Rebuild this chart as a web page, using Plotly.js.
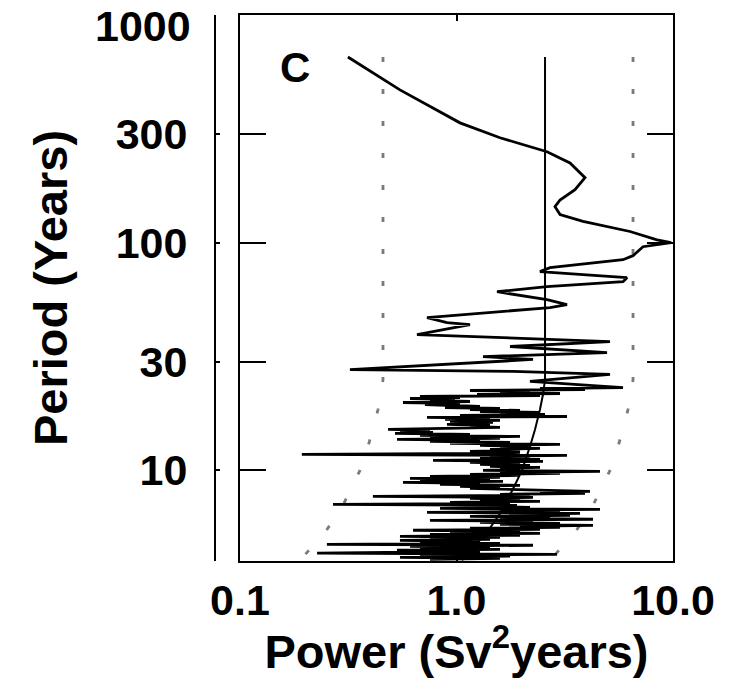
<!DOCTYPE html>
<html>
<head>
<meta charset="utf-8">
<script src="https://cdn.plot.ly/plotly-3.0.1.min.js"></script>
<style>html,body{margin:0;padding:0;background:#fff;}#chart{width:746px;height:678px;}</style>
</head>
<body>
<div id="chart"></div>
<script>
// Main power spectrum: long periods (smooth upper part)
const upperPeriod = [
  654, 469, 336, 289, 251, 224, 193, 171, 154, 144, 133, 124, 112, 103, 100, 96.0, 87.7, 84.2, 77.7, 74.6,
  72.4, 70.2, 67.4, 64.1, 60.9, 59.1, 56.2, 53.5, 51.9, 46.9, 44.6, 43.7, 39.5, 36.8, 35.0, 32.9, 31.6, 30.7,
  27.7, 27.2, 26.4, 24.6, 23.1
];
const upperPower = [
  0.315, 0.548, 1.038, 1.588, 2.618, 3.344, 3.922, 3.527, 3.007, 2.851, 3.007, 3.840, 6.331, 8.436, 9.8, 7.267, 6.536, 5.875, 2.703, 2.430,
  3.840, 6.132, 5.875, 2.618, 1.539, 1.903, 2.618, 3.239, 2.703, 0.731, 0.904, 1.154, 0.657, 5.117, 1.767, 4.957, 1.326, 2.256,
  0.322, 1.824, 5.117, 2.185, 5.875
];
// Main power spectrum: short periods (dense lower part)
const lowerPeriod = [
  22.89, 22.66, 22.43, 22.20, 21.98, 21.76, 21.54, 21.32, 21.11, 20.90, 20.69, 20.48, 20.28, 20.07, 19.87, 19.67, 19.47, 19.28, 19.08, 18.89,
  18.70, 18.51, 18.33, 18.14, 17.96, 17.78, 17.60, 17.43, 17.25, 17.08, 16.91, 16.74, 16.57, 16.40, 16.24, 16.07, 15.91, 15.75, 15.60, 15.44,
  15.28, 15.13, 14.98, 14.83, 14.68, 14.53, 14.38, 14.24, 14.10, 13.96, 13.82, 13.68, 13.54, 13.41, 13.27, 13.14, 13.00, 12.87, 12.74, 12.62,
  12.49, 12.36, 12.24, 12.12, 11.99, 11.87, 11.75, 11.63, 11.52, 11.40, 11.29, 11.17, 11.06, 10.95, 10.84, 10.73, 10.62, 10.52, 10.41, 10.31,
  10.20, 10.10, 10.00, 9.90, 9.80, 9.70, 9.60, 9.51, 9.41, 9.32, 9.23, 9.13, 9.04, 8.95, 8.86, 8.77, 8.68, 8.60, 8.51, 8.42,
  8.34, 8.25, 8.17, 8.09, 8.01, 7.93, 7.85, 7.77, 7.69, 7.61, 7.54, 7.46, 7.39, 7.31, 7.24, 7.17, 7.09, 7.02, 6.95, 6.88,
  6.81, 6.74, 6.68, 6.61, 6.54, 6.48, 6.41, 6.35, 6.28, 6.22, 6.16, 6.10, 6.03, 5.97, 5.91, 5.85, 5.80, 5.74, 5.68, 5.62,
  5.57, 5.51, 5.46, 5.40, 5.35, 5.29, 5.24, 5.19, 5.13, 5.08, 5.03, 4.98, 4.93, 4.88, 4.83, 4.78, 4.73, 4.69, 4.64, 4.59,
  4.55, 4.50, 4.46, 4.41, 4.37, 4.33, 4.28, 4.24, 4.20, 4.15, 4.11, 4.07
];
const lowerPower = [
  2.430, 3.922, 1.154, 2.185, 1.588, 3.007, 1.244, 2.430, 0.678, 1.038, 0.610, 0.984, 0.754, 1.154, 0.566, 1.038, 0.715, 0.933, 1.284, 0.885,
  1.588, 1.154, 1.965, 1.284, 2.430, 1.588, 2.564, 1.038, 3.239, 0.731, 1.428, 0.885, 1.588, 0.933, 1.474, 1.038, 0.904, 1.428, 1.154, 1.588,
  0.839, 0.483, 0.754, 0.548, 0.779, 0.520, 1.154, 0.678, 1.965, 0.754, 1.588, 0.531, 1.284, 0.754, 1.767, 0.933, 3.007, 1.284, 2.185, 1.588,
  2.430, 1.428, 1.965, 1.154, 1.965, 1.284, 0.193, 3.239, 1.428, 2.185, 1.284, 2.430, 0.779, 2.509, 1.154, 1.965, 1.284, 2.185, 1.428, 2.430,
  1.588, 1.965, 1.326, 4.600, 1.588, 3.007, 1.154, 1.965, 0.754, 1.588, 0.610, 1.428, 0.678, 1.640, 0.566, 1.284, 0.839, 1.965, 1.038, 1.588,
  1.154, 1.824, 3.007, 4.137, 2.430, 3.922, 1.588, 2.185, 0.411, 2.256, 1.154, 1.965, 1.284, 2.430, 0.933, 1.767, 0.269, 1.903, 1.154, 2.185,
  0.839, 4.600, 1.588, 3.007, 0.731, 3.719, 1.965, 3.344, 1.154, 2.703, 1.588, 4.271, 0.754, 2.256, 1.284, 3.007, 1.588, 4.271, 1.965, 3.007,
  1.154, 2.430, 0.630, 1.965, 0.933, 2.430, 0.754, 1.965, 0.548, 1.588, 0.754, 1.428, 0.548, 1.284, 0.678, 1.588, 0.252, 2.256, 0.610, 1.428,
  0.678, 1.588, 0.531, 1.284, 0.610, 0.227, 2.912, 0.678, 1.767, 0.548, 1.588, 0.754
];
const spectrumPeriod = upperPeriod.concat(lowerPeriod);
const spectrumPower = upperPower.concat(lowerPower);

// Background (red-noise) spectrum and its confidence limits
const backgroundPeriod = [654, 25.06, 21.54, 18.51, 15.13, 12.74, 10.0, 8.25, 6.74, 5.35, 4.28, 4.03];
const backgroundPower  = [2.564, 2.564, 2.509, 2.430, 2.305, 2.185, 2.007, 1.824, 1.640, 1.383, 1.130, 1.060];
const lowerLimitPower  = [0.4576, 0.4576, 0.448, 0.434, 0.411, 0.390, 0.3583, 0.3256, 0.2927, 0.2470, 0.2017, 0.1893];
const upperLimitPower  = [6.536, 6.536, 6.397, 6.196, 5.875, 5.572, 5.117, 4.649, 4.181, 3.527, 2.881, 2.703];

// Axis ticks
const xTickVals = [0.1, 1, 10];
const xTickText = ['0.1', '1.0', '10.0'];
const yTickVals = [10, 30, 100, 300];
const yTickText = ['10', '30', '100', '300'];
const yTopLabel = '1000';
const frameTickVals = [10, 30, 100, 300];

const FONT = 'Liberation Sans, Arial, Helvetica, sans-serif';

const traces = [
  {x: lowerLimitPower, y: backgroundPeriod, type: 'scatter', mode: 'lines', xaxis: 'x', yaxis: 'y',
   line: {color: '#7a7a7a', width: 2.8, dash: '5px,27px'}, hoverinfo: 'skip', showlegend: false},
  {x: upperLimitPower, y: backgroundPeriod, type: 'scatter', mode: 'lines', xaxis: 'x', yaxis: 'y',
   line: {color: '#7a7a7a', width: 2.8, dash: '5px,27px'}, hoverinfo: 'skip', showlegend: false},
  {x: spectrumPower, y: spectrumPeriod, type: 'scatter', mode: 'lines', xaxis: 'x', yaxis: 'y',
   line: {color: '#000', width: 2.8}, showlegend: false},
  {x: backgroundPower, y: backgroundPeriod, type: 'scatter', mode: 'lines', xaxis: 'x', yaxis: 'y2',
   line: {color: '#000', width: 2}, showlegend: false}
];

const yRange = [Math.log10(4.0), 3];
const layout = {
  width: 746, height: 678,
  margin: {l: 215, r: 73, t: 15, b: 117, pad: 0},
  paper_bgcolor: '#fff', plot_bgcolor: '#fff',
  showlegend: false,
  font: {family: FONT, color: '#000'},
  xaxis: {
    type: 'log', range: [-1, 1], domain: [25 / 458, 1], anchor: 'y',
    showline: true, linecolor: '#000', linewidth: 2, mirror: 'ticks',
    ticks: 'inside', ticklen: 6, tickwidth: 2, tickcolor: '#000',
    tickvals: xTickVals, ticktext: xTickText,
    tickfont: {family: FONT, size: 43, weight: 'bold', color: '#000'},
    ticklabelstandoff: 0,
    showgrid: false, zeroline: false,
    title: {text: 'Power (Sv<sup>2</sup>years)', font: {family: FONT, size: 47, weight: 'bold', color: '#000'}, standoff: 5}
  },
  yaxis: {
    type: 'log', range: yRange, anchor: 'free', position: 0, side: 'left',
    showline: true, linecolor: '#000', linewidth: 2,
    ticks: 'inside', ticklen: 4, tickwidth: 2, tickcolor: '#000',
    tickvals: yTickVals, ticktext: yTickText,
    tickfont: {family: FONT, size: 43, weight: 'bold', color: '#000'},
    ticklabelstandoff: 18,
    showgrid: false, zeroline: false,
    title: {text: 'Period (Years)', font: {family: FONT, size: 47, weight: 'bold', color: '#000'}, standoff: 32}
  },
  yaxis2: {
    type: 'log', range: yRange, overlaying: 'y', anchor: 'x', side: 'left',
    showline: true, linecolor: '#000', linewidth: 2, mirror: 'ticks',
    ticks: 'inside', ticklen: 26, tickwidth: 2, tickcolor: '#000',
    tickvals: frameTickVals, showticklabels: false,
    showgrid: false, zeroline: false
  },
  annotations: [
    {text: 'C', xref: 'paper', yref: 'paper', x: (295 - 215) / 458, y: (561 - 67) / 546,
     xanchor: 'center', yanchor: 'middle', showarrow: false,
     font: {family: FONT, size: 42, weight: 'bold', color: '#000'}},
    {text: yTopLabel, xref: 'paper', yref: 'paper', x: (193 - 215) / 458, y: (561 - 26) / 546,
     xanchor: 'right', yanchor: 'middle', showarrow: false,
     font: {family: FONT, size: 43, weight: 'bold', color: '#000'}}
  ]
};

Plotly.newPlot('chart', traces, layout, {displayModeBar: false, staticPlot: true});
</script>
</body>
</html>
